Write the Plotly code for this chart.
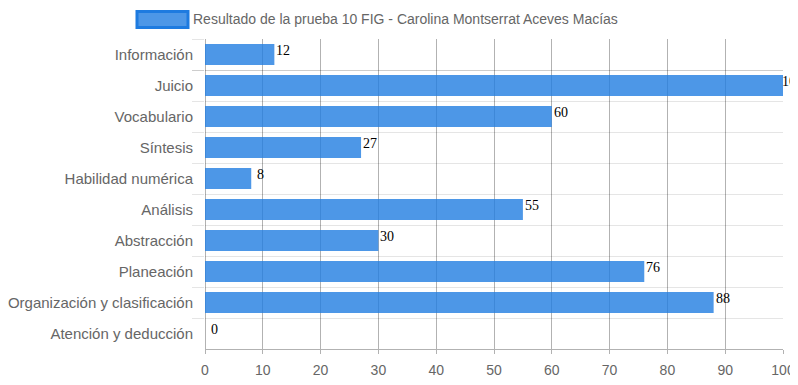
import plotly.graph_objects as go

categories = ["Información", "Juicio", "Vocabulario", "Síntesis", "Habilidad numérica",
              "Análisis", "Abstracción", "Planeación", "Organización y clasificación",
              "Atención y deducción"]
values = [12, 100, 60, 27, 8, 55, 30, 76, 88, 0]
series_name = "Resultado de la prueba 10 FIG - Carolina Montserrat Aceves Macías"
x_ticks = list(range(0, 101, 10))

OFF = 8  # page body margin
W, H = 798 - OFF, 385 - OFF
# plot area in page pixels: left 205, right 783, top 39, bottom 349
L, R, T, B = 205 - OFF, W - (783 - OFF), 39 - OFF, H - (349 - OFF)
pw, ph = W - L - R, H - T - B

def px_x(p):
    return (p - OFF - L) / pw

def px_y(p):
    return (H - B - (p - OFF)) / ph

bar_fill = "rgba(33,125,225,0.8)"

fig = go.Figure()
fig.add_trace(go.Bar(
    x=values, y=categories, orientation="h",
    marker=dict(color=bar_fill, line=dict(width=0)),
    width=0.68, name=series_name, showlegend=False, cliponaxis=False,
))

for c, v in zip(categories, values):
    fig.add_annotation(x=v, y=c, text=str(v), showarrow=False,
                       xanchor="center", yanchor="middle", xshift=9, yshift=4,
                       font=dict(family="Liberation Serif", size=14, color="#000"))

# legend
fig.add_shape(type="rect", xref="paper", yref="paper",
              x0=px_x(137), x1=px_x(188), y0=px_y(27.5), y1=px_y(11.5),
              fillcolor=bar_fill, line=dict(color="#1e7be0", width=3))
fig.add_annotation(xref="paper", yref="paper", x=px_x(191), y=px_y(19.5),
                   text=series_name, showarrow=False, xanchor="left", yanchor="middle",
                   font=dict(family="Liberation Sans", size=14, color="#666"))

fig.update_layout(
    width=W, height=H,
    margin=dict(l=L, r=R, t=T, b=B, pad=0, autoexpand=False),
    plot_bgcolor="white", paper_bgcolor="white",
    font=dict(family="Liberation Sans", size=14, color="#666"),
)
fig.update_xaxes(range=[0, 100], tickvals=x_ticks, showgrid=True,
                 gridcolor="rgba(0,0,0,0.3)", gridwidth=1,
                 zeroline=True, zerolinecolor="rgba(0,0,0,0.3)", zerolinewidth=1,
                 showline=True, linecolor="rgba(0,0,0,0.3)", linewidth=1,
                 ticks="outside", ticklen=4, tickcolor="rgba(0,0,0,0.3)",
                 ticklabelstandoff=4, automargin=False,
                 tickfont=dict(size=14, color="#666"))
fig.update_yaxes(autorange="reversed", tickson="boundaries", showgrid=True,
                 gridcolor="rgba(0,0,0,0.1)", gridwidth=1,
                 ticks="outside", ticklen=12, tickcolor="rgba(0,0,0,0.1)",
                 ticklabelstandoff=11,
                 showline=False, automargin=False,
                 tickfont=dict(size=15, color="#666"))

fig.write_html("out.html")
